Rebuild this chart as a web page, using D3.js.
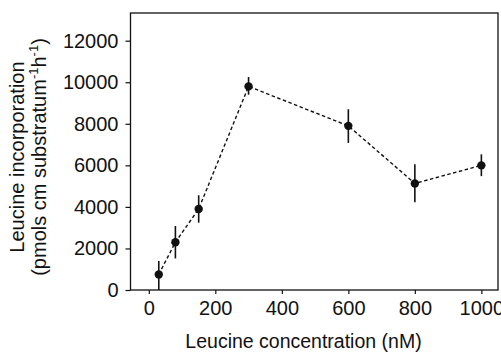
<!DOCTYPE html>
<html><head><meta charset="utf-8">
<script src="https://cdn.jsdelivr.net/npm/d3@7"></script>
<style>body{margin:0;background:#fff}svg{display:block}text{font-family:"Liberation Sans",Arial,sans-serif;fill:#111}</style>
</head><body>
<svg id="c" width="501" height="353"></svg>
<script>
const concentration = [30, 80, 150, 300, 600, 800, 1000];
const incorporation = [750, 2300, 3900, 9800, 7900, 5130, 6000];
const errUpper = [1400, 3080, 4560, 10250, 8700, 6050, 6530];
const errLower = [0, 1520, 3240, 9400, 7080, 4220, 5480];
const xTicks = [0, 200, 400, 600, 800, 1000];
const yTicks = [0, 2000, 4000, 6000, 8000, 10000, 12000];

const svg = d3.select("#c");
const L = 130.5, R = 498, T = 13, B = 290;
const x = d3.scaleLinear().domain([-55, 1050]).range([L, R]);
const y = d3.scaleLinear().domain([0, 13333]).range([B, T]);

svg.append("rect").attr("x", L).attr("y", T).attr("width", R - L).attr("height", B - T)
  .attr("fill", "none").attr("stroke", "#111").attr("stroke-width", 1.3);

const xa = svg.append("g").attr("transform", `translate(0,${B})`)
  .call(d3.axisBottom(x).tickValues(xTicks).tickSize(4).tickPadding(7).tickFormat(d3.format("d")));
const ya = svg.append("g").attr("transform", `translate(${L},0)`)
  .call(d3.axisLeft(y).tickValues(yTicks).tickSize(5).tickPadding(7).tickFormat(d3.format("d")));
[xa, ya].forEach(a => {
  a.select(".domain").remove();
  a.selectAll("line").attr("stroke", "#111").attr("stroke-width", 1.2);
  a.selectAll("text").attr("font-size", 20).attr("font-family", "Liberation Sans, Arial, sans-serif").attr("fill", "#111");
});

const line = d3.line().x((d, i) => x(concentration[i])).y(d => y(d));
svg.append("path").datum(incorporation).attr("d", line).attr("fill", "none")
  .attr("stroke", "#111").attr("stroke-width", 1.4).attr("stroke-dasharray", "3.5,2.5");

svg.append("g").selectAll("line").data(concentration).join("line")
  .attr("x1", d => x(d)).attr("x2", d => x(d))
  .attr("y1", (d, i) => y(errUpper[i])).attr("y2", (d, i) => y(errLower[i]))
  .attr("stroke", "#111").attr("stroke-width", 1.6);

svg.append("g").selectAll("circle").data(concentration).join("circle")
  .attr("cx", d => x(d)).attr("cy", (d, i) => y(incorporation[i])).attr("r", 4.2).attr("fill", "#111");

svg.append("text").attr("x", 303.5).attr("y", 348).attr("text-anchor", "middle")
  .attr("font-size", 19.5).text("Leucine concentration (nM)");

const yt = svg.append("g").attr("transform", "translate(0,157) rotate(-90)");
yt.append("text").attr("x", 0).attr("y", 24).attr("text-anchor", "middle").attr("font-size", 20)
  .text("Leucine incorporation");
const t2 = yt.append("text").attr("x", 0).attr("y", 45.5).attr("text-anchor", "middle").attr("font-size", 20);
t2.append("tspan").text("(pmols cm substratum");
t2.append("tspan").attr("dy", -8).attr("font-size", 13).text("-1");
t2.append("tspan").attr("dy", 8).text("h");
t2.append("tspan").attr("dy", -8).attr("font-size", 13).text("-1");
t2.append("tspan").attr("dy", 8).text(")");
</script>
</body></html>
